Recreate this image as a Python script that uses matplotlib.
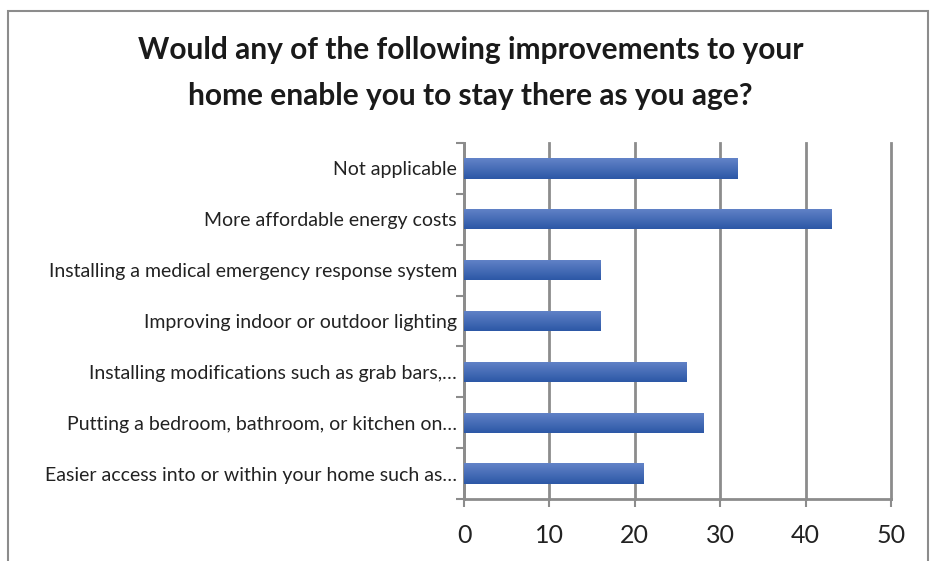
import numpy as np
import matplotlib
matplotlib.use("Agg")
import matplotlib.pyplot as plt
from matplotlib.patches import Rectangle
from matplotlib.colors import LinearSegmentedColormap

plt.rcParams['font.family'] = ['Lato', 'DejaVu Sans']

# Data (top to bottom as shown)
categories = [
    "Not applicable",
    "More affordable energy costs",
    "Installing a medical emergency response system",
    "Improving indoor or outdoor lighting",
    "Installing modifications such as grab bars,\u2026",
    "Putting a bedroom, bathroom, or kitchen on\u2026",
    "Easier access into or within your home such as\u2026",
]
values = [32, 43, 16, 16, 26, 28, 21]
xticks = [0, 10, 20, 30, 40, 50]
title = "Would any of the following improvements to your\nhome enable you to stay there as you age?"

W, H = 935, 561
fig = plt.figure(figsize=(W / 100, H / 100), dpi=100)
ax = fig.add_axes([464 / W, 1 - 499 / H, (891 - 464) / W, (499 - 143) / H])

# outer chart frame
fig.patches.append(Rectangle((8 / W, -0.05), (928 - 8) / W, 1.05 - 11 / H,
                             transform=fig.transFigure, fill=False,
                             edgecolor="#8c8c8c", linewidth=1.5))

n = len(categories)
ypos = np.arange(n)[::-1]
bars = ax.barh(ypos, values, height=0.4, color="none", zorder=3)

grad = LinearSegmentedColormap.from_list("g", ["#2c58a6", "#6383c8"])
g = np.linspace(0, 1, 64).reshape(-1, 1)
for b in bars:
    x0, y0 = b.get_x(), b.get_y()
    im = ax.imshow(g, cmap=grad, aspect="auto", origin="lower",
                   extent=[x0, x0 + b.get_width(), y0, y0 + b.get_height()],
                   zorder=3, interpolation="bicubic")
    im.set_clip_path(b)

ax.set_xlim(0, 50)
ax.set_ylim(-0.5, n - 0.5)
ax.set_xticks(xticks)
ax.set_xticklabels([str(t) for t in xticks], fontsize=18, color="#222222")
ax.xaxis.grid(True, color="#8c8c8c", linewidth=2, zorder=0)
for gl in ax.get_xgridlines():
    gl.set_clip_on(False)
ax.set_axisbelow(True)

ax.set_yticks(ypos)
ax.set_yticklabels(categories, fontsize=14, color="#222222")
ax.set_yticks(np.arange(-0.5, n, 1.0), minor=True)
ax.tick_params(axis="y", which="major", length=0, pad=5)
ax.tick_params(axis="y", which="minor", length=6, width=1.5, color="#8c8c8c")
ax.tick_params(axis="x", length=6, width=1.5, color="#8c8c8c", pad=12)

for s in ["top", "right"]:
    ax.spines[s].set_visible(False)
for s in ["left", "bottom"]:
    ax.spines[s].set_color("#8c8c8c")
    ax.spines[s].set_linewidth(2)

fig.text(0.503, 1 - 73 / H, title, ha="center", va="center", fontsize=21.5,
         fontweight="bold", color="#1a1a1a", linespacing=1.75)

fig.savefig("out.png", dpi=100)
